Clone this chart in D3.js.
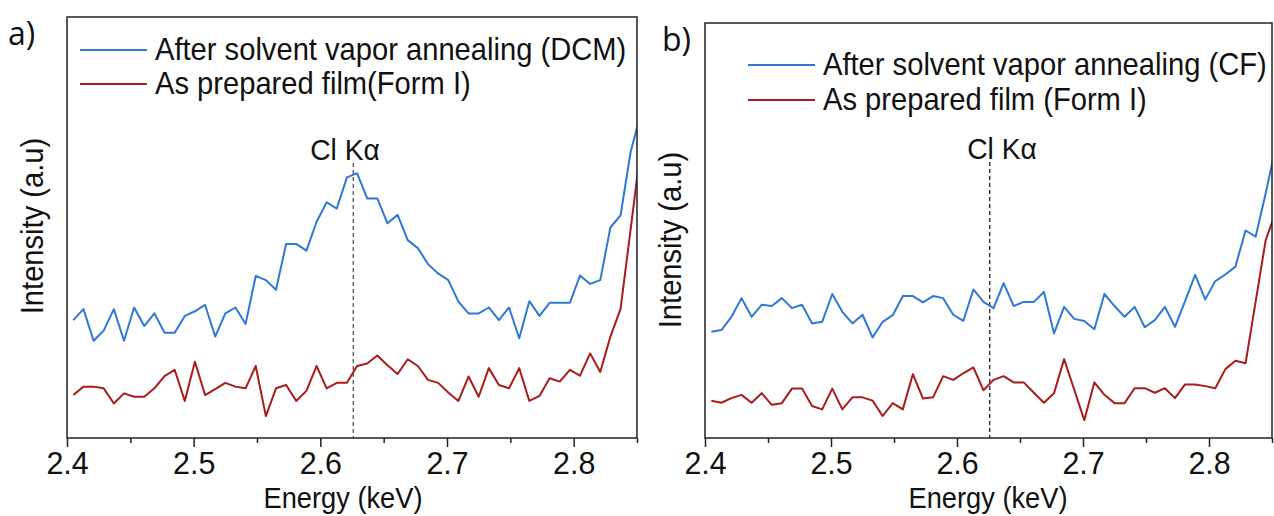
<!DOCTYPE html>
<html>
<head>
<meta charset="utf-8">
<script src="https://cdn.jsdelivr.net/npm/d3@7"></script>
<style>
    body { margin: 0; background: #fff; }
    svg text { font-family: "Liberation Sans", Arial, sans-serif; fill: #111; }
</style>
</head>
<body>
<svg id="chart" width="1274" height="516" viewBox="0 0 1274 516"></svg>
<script>
// Energy grid (keV), shared by both panels
const energy = [2.405, 2.413, 2.421, 2.429, 2.437, 2.445, 2.453, 2.461, 2.469, 2.477,
    2.485, 2.493, 2.501, 2.509, 2.517, 2.525, 2.533, 2.541, 2.549, 2.557,
    2.565, 2.573, 2.581, 2.589, 2.597, 2.605, 2.613, 2.621, 2.629, 2.637,
    2.645, 2.653, 2.661, 2.669, 2.677, 2.685, 2.693, 2.701, 2.709, 2.717,
    2.725, 2.733, 2.741, 2.749, 2.757, 2.765, 2.773, 2.781, 2.789, 2.797,
    2.805, 2.813, 2.821, 2.829, 2.837, 2.845, 2.853];

// a) intensities (a.u.)
const dcmAnnealed = [28.0, 30.6, 23.1, 25.5, 30.6, 23.1, 31.0, 26.6, 29.6, 25.0,
    25.0, 29.0, 30.1, 31.6, 24.1, 29.6, 31.0, 27.1, 38.5, 37.5,
    35.2, 46.1, 46.1, 44.5, 51.3, 56.0, 54.5, 61.9, 62.9, 56.9,
    56.9, 51.0, 53.0, 47.0, 45.1, 41.3, 39.1, 37.5, 32.4, 29.6,
    29.6, 31.0, 28.0, 31.0, 23.7, 32.5, 29.0, 32.1, 32.1, 32.1,
    38.6, 36.6, 37.5, 50.0, 52.9, 68.0, 77.1];
const dcmAsPrepared = [10.2, 12.2, 12.2, 11.8, 8.2, 10.6, 9.8, 9.8, 11.8, 14.7,
    16.2, 8.8, 18.1, 10.2, 11.6, 13.1, 12.2, 11.8, 17.1, 5.2,
    11.8, 12.6, 8.8, 11.2, 17.1, 11.8, 13.1, 13.1, 17.1, 17.7,
    19.6, 17.3, 15.2, 18.7, 17.1, 13.8, 13.1, 10.8, 8.8, 14.6,
    9.8, 16.6, 12.6, 11.8, 16.6, 8.8, 10.0, 14.2, 13.4, 16.2,
    14.8, 20.1, 15.7, 24.1, 30.6, 49.6, 68.9];

// b) intensities (a.u.)
const cfAnnealed = [25.6, 26.0, 29.2, 33.7, 29.2, 32.1, 31.8, 33.7, 31.3, 32.1,
    27.6, 28.0, 34.7, 30.4, 27.6, 29.7, 24.2, 28.0, 29.6, 34.2,
    34.2, 32.7, 34.2, 33.7, 29.7, 28.2, 35.8, 32.8, 31.3, 37.3,
    31.8, 32.8, 32.8, 35.2, 25.2, 31.6, 28.7, 28.2, 26.2, 34.7,
    31.8, 29.2, 31.6, 26.7, 28.4, 31.6, 26.8, 33.0, 39.3, 33.4,
    37.8, 39.4, 41.3, 50.0, 48.5, 59.0, 70.2];
const cfAsPrepared = [9.0, 8.5, 9.6, 10.4, 8.5, 10.8, 8.0, 8.4, 11.9, 11.9,
    7.7, 6.9, 11.9, 6.9, 9.8, 9.8, 9.0, 5.3, 8.4, 6.9,
    15.4, 9.5, 9.8, 14.9, 14.0, 15.6, 17.0, 11.5, 14.0, 14.9,
    13.4, 13.4, 10.9, 8.5, 10.8, 19.0, 11.7, 4.3, 13.4, 10.4,
    8.4, 8.4, 12.0, 12.0, 10.9, 12.0, 9.6, 12.9, 12.9, 12.5,
    12.0, 16.6, 18.6, 18.0, 32.8, 47.7, 54.5];

const majorTicks = [2.4, 2.5, 2.6, 2.7, 2.8];
const minorTicks = [2.45, 2.55, 2.65, 2.75, 2.85];
const clKalpha = 2.626;

const annealedColor = "#2f78d6";
const preparedColor = "#aa1b1b";

const svg = d3.select("#chart");

// text slightly condensed, like the original figure font
function addText(parent, x, y, str, size, anchor, rotate) {
    const t = "translate(" + x + "," + y + ")" + (rotate ? " rotate(-90)" : "") + " scale(0.94,1)";
    return parent.append("text")
        .attr("transform", t)
        .attr("text-anchor", anchor)
        .style("font-size", size + "px")
        .text(str);
}

function drawPanel(cfg) {
    const x = d3.scaleLinear().domain([2.4, 2.85]).range([cfg.left, cfg.right]);
    const y = d3.scaleLinear().domain([0, 100]).range([cfg.bottom, cfg.top]);
    const g = svg.append("g");

    // clip the spectra to the frame
    g.append("clipPath").attr("id", "clip-" + cfg.id)
        .append("rect")
        .attr("x", cfg.left).attr("y", cfg.top)
        .attr("width", cfg.right - cfg.left).attr("height", cfg.bottom - cfg.top);

    // Cl K alpha marker
    g.append("line")
        .attr("x1", x(clKalpha)).attr("x2", x(clKalpha))
        .attr("y1", cfg.markerTop).attr("y2", cfg.bottom)
        .attr("stroke", cfg.markerColor).attr("stroke-width", 1.3)
        .attr("stroke-dasharray", "4,3");
    addText(g, cfg.markerLabelX, cfg.markerTop - 3, "Cl K\u03b1", 30, "middle");

    const line = d3.line().x((d, i) => x(energy[i])).y(d => y(d));
    const series = [
        { values: cfg.annealed, color: annealedColor },
        { values: cfg.prepared, color: preparedColor }
    ];
    g.append("g").attr("clip-path", "url(#clip-" + cfg.id + ")")
        .selectAll("path")
        .data(series)
        .enter()
        .append("path")
        .attr("d", d => line(d.values))
        .attr("fill", "none")
        .attr("stroke", d => d.color)
        .attr("stroke-width", 2)
        .attr("stroke-linejoin", "round");

    // Frame
    g.append("rect")
        .attr("x", cfg.left).attr("y", cfg.top)
        .attr("width", cfg.right - cfg.left).attr("height", cfg.bottom - cfg.top)
        .attr("fill", "none").attr("stroke", "#222").attr("stroke-width", 1.5);

    // X axis: labelled major ticks, short minor ticks
    const xAxis = d3.axisBottom(x).tickValues(majorTicks).tickSize(9)
        .tickPadding(4).tickFormat(d3.format(".1f"));
    const axisG = g.append("g")
        .attr("transform", "translate(0," + cfg.bottom + ")")
        .call(xAxis);
    axisG.select(".domain").remove();
    axisG.selectAll(".tick line").attr("stroke", "#222").attr("stroke-width", 1.5);
    axisG.selectAll(".tick text")
        .attr("transform", "scale(0.95,1)")
        .style("font-size", "32px")
        .style("font-family", "'Liberation Sans', Arial, sans-serif")
        .attr("fill", "#111");

    const minorG = g.append("g")
        .attr("transform", "translate(0," + cfg.bottom + ")")
        .call(d3.axisBottom(x).tickValues(minorTicks).tickSize(5).tickFormat(""));
    minorG.select(".domain").remove();
    minorG.selectAll(".tick line").attr("stroke", "#222").attr("stroke-width", 1.5);

    // Axis titles
    addText(g, cfg.xTitleX, 508, "Energy (keV)", 29, "middle");
    addText(g, cfg.yTitleX, cfg.yTitleY, "Intensity (a.u)", 31, "middle", true);

    // Panel letter
    g.append("text")
        .attr("x", cfg.letterX).attr("y", cfg.letterY)
        .style("font-size", "32px")
        .style("font-family", "'Open Sans', 'Noto Sans', sans-serif")
        .text(cfg.letter);

    // Legend
    const legend = g.append("g")
        .selectAll("g")
        .data([
            { label: cfg.labels[0], color: annealedColor },
            { label: cfg.labels[1], color: preparedColor }
        ])
        .enter()
        .append("g")
        .attr("transform", (d, i) => "translate(" + cfg.legendX + "," + (cfg.legendY + i * cfg.legendGap) + ")");
    legend.append("line")
        .attr("x1", 0).attr("x2", cfg.legendLine)
        .attr("stroke", d => d.color).attr("stroke-width", 2);
    legend.each(function(d) {
        addText(d3.select(this), cfg.legendLine + 8, 10, d.label, 31, "start");
    });
}

drawPanel({
    id: "a", letter: "a)", letterX: 8, letterY: 45,
    left: 67, right: 637, top: 17, bottom: 438,
    annealed: dcmAnnealed, prepared: dcmAsPrepared,
    labels: ["After solvent vapor annealing (DCM)", "As prepared film(Form I)"],
    legendX: 80, legendY: 50, legendGap: 34, legendLine: 67,
    markerTop: 163, markerLabelX: 345, markerColor: "#555",
    xTitleX: 343, yTitleX: 43, yTitleY: 226
});

drawPanel({
    id: "b", letter: "b)", letterX: 662, letterY: 51,
    left: 705, right: 1272, top: 23, bottom: 438,
    annealed: cfAnnealed, prepared: cfAsPrepared,
    labels: ["After solvent vapor annealing (CF)", "As prepared film (Form I)"],
    legendX: 748, legendY: 65, legendGap: 35, legendLine: 67,
    markerTop: 162, markerLabelX: 1002, markerColor: "#222",
    xTitleX: 988, yTitleX: 681, yTitleY: 240
});
</script>
</body>
</html>
